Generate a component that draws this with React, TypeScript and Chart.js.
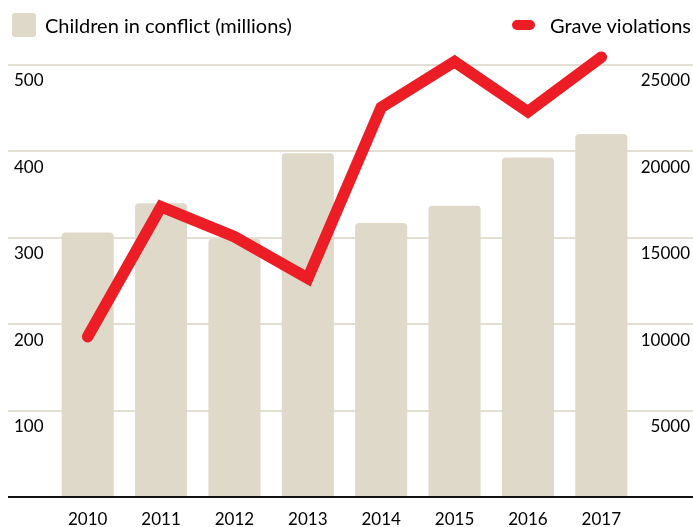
import React, { useEffect, useRef } from "react";
import { Chart, registerables } from "chart.js";

Chart.register(...registerables);

const years = ["2010", "2011", "2012", "2013", "2014", "2015", "2016", "2017"];
const childrenInConflict = [306, 340, 299, 398, 317, 337, 393, 420];
const graveViolations = [9280, 16800, 15060, 12660, 22550, 25190, 22300, 25450];
const leftTicks = [100, 200, 300, 400, 500];
const rightTicks = [5000, 10000, 15000, 20000, 25000];

const BAR_COLOR = "#dfd9ca";
const GRID_COLOR = "#e3dfd3";
const RED = "#ec1d25";
const TEXT = "#000000";
const FONT = "Lato";

const gridPlugin = {
  id: "fullGrid",
  beforeDatasetsDraw(chart: any) {
    const { ctx } = chart;
    const y = chart.scales.y;
    ctx.save();
    ctx.strokeStyle = GRID_COLOR;
    ctx.lineWidth = 2;
    leftTicks.forEach((v) => {
      const py = Math.round(y.getPixelForValue(v));
      ctx.beginPath();
      ctx.moveTo(8, py);
      ctx.lineTo(chart.width, py);
      ctx.stroke();
    });
    ctx.restore();
  },
  afterDatasetsDraw(chart: any) {
    const { ctx } = chart;
    const y = chart.scales.y;
    const py = Math.round(y.getPixelForValue(0));
    ctx.save();
    ctx.strokeStyle = "#111";
    ctx.lineWidth = 2;
    ctx.beginPath();
    ctx.moveTo(8, py);
    ctx.lineTo(chart.width, py);
    ctx.stroke();
    ctx.restore();
  },
};

export default function App() {
  const ref = useRef<HTMLCanvasElement>(null);

  useEffect(() => {
    if (!ref.current) return;
    const chart = new Chart(ref.current, {
      type: "bar",
      data: {
        labels: years,
        datasets: [
          {
            type: "line",
            label: "Grave violations",
            data: graveViolations,
            yAxisID: "y1",
            borderColor: RED,
            backgroundColor: RED,
            borderWidth: 11.5,
            pointRadius: 0,
            tension: 0,
            borderCapStyle: "round",
            borderJoinStyle: "miter",
            clip: false,
            order: 1,
          } as any,
          {
            type: "bar",
            label: "Children in conflict (millions)",
            data: childrenInConflict,
            yAxisID: "y",
            backgroundColor: BAR_COLOR,
            borderRadius: { topLeft: 4, topRight: 4, bottomLeft: 0, bottomRight: 0 },
            borderSkipped: false,
            barPercentage: 0.71,
            categoryPercentage: 1,
            order: 2,
          } as any,
        ],
      },
      options: {
        animation: false,
        responsive: false,
        devicePixelRatio: 1,
        layout: { padding: { top: 65, left: 14, right: 3, bottom: 0 } },
        plugins: {
          legend: { display: false },
          tooltip: { enabled: false },
        },
        scales: {
          x: {
            grid: { display: false, drawTicks: false },
            border: { display: false },
            ticks: {
              color: TEXT,
              font: { family: FONT, size: 17 },
              padding: 12,
              maxRotation: 0,
            },
            afterFit(scale: any) {
              scale.height = 30;
            },
          },
          y: {
            position: "left",
            min: 0,
            max: 500,
            grid: { display: false, drawTicks: false },
            border: { display: false },
            afterBuildTicks(scale: any) {
              scale.ticks = leftTicks.map((v) => ({ value: v }));
            },
            ticks: {
              color: TEXT,
              font: { family: FONT, size: 17 },
              crossAlign: "far",
              labelOffset: 16,
              padding: 0,
            },
            afterFit(scale: any) {
              scale.width = 37;
            },
          },
          y1: {
            position: "right",
            min: 0,
            max: 25000,
            grid: { display: false, drawTicks: false },
            border: { display: false },
            afterBuildTicks(scale: any) {
              scale.ticks = rightTicks.map((v) => ({ value: v }));
            },
            ticks: {
              color: TEXT,
              font: { family: FONT, size: 17 },
              crossAlign: "far",
              labelOffset: 16,
              padding: 0,
              callback: (v: any) => String(v),
            },
            afterFit(scale: any) {
              scale.width = 52;
            },
          },
        },
      },
      plugins: [gridPlugin],
    });
    return () => chart.destroy();
  }, []);

  return (
    <div style={{ position: "absolute", left: 0, top: 0, width: 693, height: 527, background: "#fff" }}>
      <canvas ref={ref} width={693} height={527} style={{ position: "absolute", left: 0, top: 0, width: 693, height: 527 }} />
      <div style={{ position: "absolute", left: 12, top: 13, width: 24, height: 24, borderRadius: 3, background: BAR_COLOR }} />
      <div style={{ position: "absolute", left: 45, top: 13, height: 24, display: "flex", alignItems: "center", fontFamily: FONT, fontSize: 20, color: TEXT, whiteSpace: "nowrap" }}>
        Children in conflict (millions)
      </div>
      <div style={{ position: "absolute", left: 512, top: 20, width: 23, height: 10, borderRadius: 5, background: RED }} />
      <div style={{ position: "absolute", left: 550, top: 13, height: 24, display: "flex", alignItems: "center", fontFamily: FONT, fontSize: 20, color: TEXT, whiteSpace: "nowrap" }}>
        Grave violations
      </div>
    </div>
  );
}
